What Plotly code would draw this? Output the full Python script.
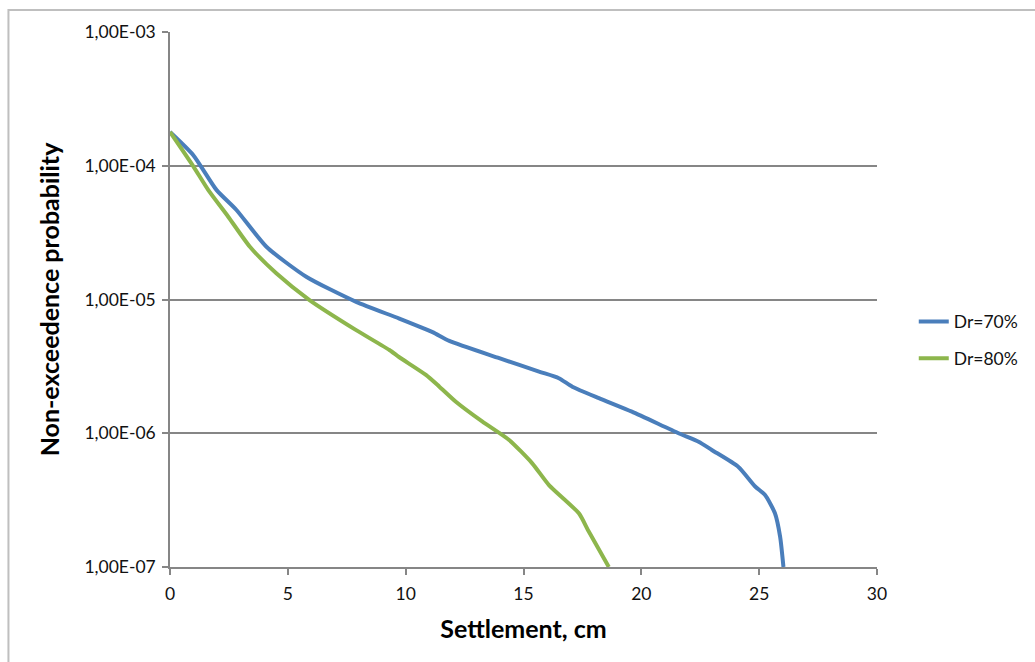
import plotly.graph_objects as go

# Settlement (cm) and non-exceedence probability for each relative density
settle_dr70 = [0, 0.99, 1.97, 2.82, 4.09, 5.78, 7.9, 9.73, 11.14, 11.85, 13.97, 15.66,
               16.5, 17.07, 18.2, 19.6, 21.58, 22.43, 22.99, 24.12, 24.83, 25.25,
               25.67, 25.89, 26.03]
prob_dr70 = [1.79e-4, 1.2e-4, 6.6e-5, 4.67e-5, 2.48e-5, 1.48e-5, 9.6e-6, 7.2e-6, 5.7e-6,
             4.9e-6, 3.64e-6, 2.89e-6, 2.58e-6, 2.23e-6, 1.83e-6, 1.45e-6, 1.0e-6,
             8.65e-7, 7.5e-7, 5.6e-7, 4.0e-7, 3.45e-7, 2.52e-7, 1.68e-7, 1.0e-7]

settle_dr80 = [0, 0.99, 1.62, 2.47, 3.39, 4.51, 5.92, 7.9, 9.31, 9.73, 10.86, 11.43,
               12.13, 13.26, 14.39, 15.37, 16.08, 17.35, 17.77, 18.62]
prob_dr80 = [1.79e-4, 9.9e-5, 6.6e-5, 4.16e-5, 2.48e-5, 1.57e-5, 9.9e-6, 5.9e-6, 4.19e-6,
             3.7e-6, 2.73e-6, 2.23e-6, 1.72e-6, 1.22e-6, 8.9e-7, 5.96e-7, 4.1e-7,
             2.52e-7, 1.84e-7, 1.0e-7]

x_ticks = [0, 5, 10, 15, 20, 25, 30]
y_ticks = [1e-7, 1e-6, 1e-5, 1e-4, 1e-3]
y_tick_text = ["1,00E-07", "1,00E-06", "1,00E-05", "1,00E-04", "1,00E-03"]

GRID = "#868686"
FONT = "Lato, Carlito, Open Sans, sans-serif"
TEXT = "#111111"

fig = go.Figure()
fig.add_trace(go.Scatter(
    x=settle_dr70, y=prob_dr70, mode="lines", name="Dr=70%", legendgroup="a",
    line=dict(color="#4A7EBB", width=4, shape="spline", smoothing=0.6),
))
fig.add_trace(go.Scatter(
    x=settle_dr80, y=prob_dr80, mode="lines", name="Dr=80%", legendgroup="b",
    line=dict(color="#8DB64C", width=4, shape="spline", smoothing=0.6),
))

fig.update_layout(
    width=1035, height=662,
    margin=dict(l=170, r=156, t=32, b=95),
    paper_bgcolor="white", plot_bgcolor="white",
    font=dict(family=FONT, size=17.5, color=TEXT),
    showlegend=True,
    legend=dict(
        x=1.052, y=0.424, xanchor="left", yanchor="middle",
        font=dict(size=17.5, color=TEXT), tracegroupgap=11,
        bgcolor="rgba(0,0,0,0)",
    ),
    xaxis=dict(
        range=[0, 30], tickvals=x_ticks, ticktext=[str(v) for v in x_ticks],
        showgrid=False, zeroline=False,
        showline=True, linecolor=GRID, linewidth=1.5,
        ticks="outside", ticklen=6, tickcolor=GRID, tickwidth=1.5,
        tickfont=dict(size=17.5), ticklabelstandoff=4,
        title=dict(text="<b>Settlement, cm</b>", font=dict(size=25, color="#000"), standoff=18),
    ),
    yaxis=dict(
        type="log", range=[-7, -3], tickvals=y_ticks, ticktext=y_tick_text,
        showgrid=True, gridcolor=GRID, gridwidth=1.5, zeroline=False,
        showline=True, linecolor=GRID, linewidth=1.5,
        ticks="outside", ticklen=6, tickcolor=GRID, tickwidth=1.5,
        tickfont=dict(size=17.5), ticklabelstandoff=3,
        title=dict(text="<b>Non-exceedence probability</b>", font=dict(size=25, color="#000"), standoff=18),
    ),
    shapes=[
        dict(type="rect", xref="paper", yref="paper",
             x0=-0.2285, x1=1.25, y0=-0.25, y1=1.0411,
             line=dict(color="#BFBFBF", width=2), fillcolor="rgba(0,0,0,0)", layer="below"),
    ],
)

fig.write_html("out.html")
